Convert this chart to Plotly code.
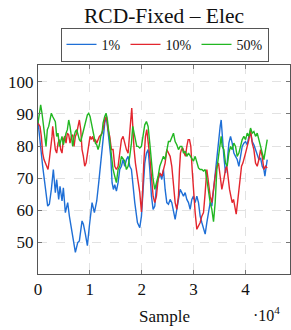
import plotly.graph_objects as go

# ---- data ----
blue_x = [0, 901, 1866, 2188, 2574, 2960, 3346, 3604, 3990, 4247, 4633, 4891, 5277, 5727, 6049, 6692, 7207, 7658, 7979, 8494, 8752, 9138, 9524, 9910, 10425, 10875, 11326, 11712, 12162,
          12870, 13192, 13514, 14028, 14286, 14543, 14801, 15122, 15444, 15766, 16088, 16409, 16731, 17053, 17375, 17696, 18018, 18340, 18662, 19176, 19627, 19949, 20270, 20592, 20914, 21236, 21557, 21879, 22201, 22523, 22844, 23166, 23488,
          23874, 24196, 24517, 24839, 25161, 25483, 25804, 26126, 26448, 26770, 27091, 27413, 27735, 28057, 28378, 28700, 29022, 29344, 29665, 29987, 30309, 30631, 30952, 31274, 31596, 31918, 32239, 32561, 32883, 33205, 33526, 33848, 34170, 34492, 34813, 35135, 35328, 35521,
          35843, 36165, 36486, 36808, 37130, 37452, 37773, 38095, 38417, 38739, 39060, 39382, 39704, 40026, 40347, 40669, 40991, 41313, 41634, 41956, 42278, 42600, 42921, 43243, 43565, 43758, 44015, 44208]
blue_y = [87.6, 73.7, 61.3, 61.9, 66.5, 72.7, 65.5, 69.6, 63.4, 67.5, 62.9, 67.0, 59.3, 62.4, 58.2, 52.1, 46.9, 50.0, 50.5, 56.7, 55.7, 52.6, 49.0, 55.2, 62.4, 59.3, 62.9, 68.6, 76.8,
          87.1, 89.2, 84.0, 76.8, 68.6, 66.5, 68.0, 66.0, 68.6, 72.7, 73.7, 75.8, 73.7, 75.8, 76.8, 73.7, 72.7, 66.5, 62.4, 56.2, 54.6, 58.2, 66.5, 74.7, 77.8, 78.9, 72.7, 64.4, 60.3, 61.3, 67.5, 69.6, 71.6,
          69.6, 72.7, 66.5, 62.4, 61.9, 63.4, 62.4, 59.3, 57.2, 60.3, 63.4, 66.5, 65.5, 64.4, 65.5, 63.4, 62.4, 60.3, 63.4, 64.4, 62.4, 64.4, 62.4, 58.2, 56.2, 54.1, 52.6, 56.2, 59.3, 62.4, 61.3, 66.5, 72.7, 75.8, 80.9, 86.1, 88.1, 83.0,
          76.8, 71.6, 74.7, 80.9, 83.0, 80.9, 77.8, 76.8, 75.8, 73.7, 76.8, 79.9, 80.9, 81.4, 80.4, 83.0, 84.0, 81.4, 80.4, 78.9, 77.8, 75.8, 76.3, 73.7, 72.7, 70.6, 73.7, 75.8]

red_x = [0, 386, 644, 901, 1158, 1416, 1673, 1931, 2188, 2445, 2703, 2831, 3089, 3346, 3604, 3861, 4118, 4376, 4633, 4891, 5148, 5405, 5663, 5920, 6178, 6435, 6692, 6950, 7207, 7465, 7722, 7979, 8237, 8494, 8752, 9009, 9266, 9524, 9781, 10039, 10296, 10553, 10811, 11068, 11326, 11583, 11840, 12162,
         12548, 12870, 13192, 13514, 13835, 14157, 14479, 14801, 15122, 15444, 15766, 16088, 16409, 16731, 17053, 17375, 17696, 17889, 18082, 18275, 18533, 18790, 19048, 19305, 19627, 19949, 20142, 20399, 20721, 20978, 21236, 21557, 21879, 22201, 22523, 22844, 23166, 23488,
         23874, 24196, 24517, 24839, 25161, 25483, 25804, 26126, 26448, 26770, 27091, 27284, 27477, 27670, 27928, 28185, 28443, 28700, 28957, 29215, 29472, 29729, 29987, 30309, 30631, 30952, 31274, 31596, 31918, 32239, 32561, 32883, 33205, 33526, 33848, 34170, 34492, 34813, 35135, 35457,
         35843, 36165, 36422, 36680, 36937, 37194, 37452, 37709, 37966, 38224, 38481, 38739, 38996, 39253, 39511, 39768, 40026, 40347, 40669, 40991, 41313, 41634, 41956, 42278, 42600, 42921, 43243, 43565, 43887, 44208]
red_y = [87.1, 86.1, 83.0, 77.8, 75.8, 74.7, 73.2, 72.7, 75.8, 78.9, 83.0, 86.1, 82.0, 78.9, 77.8, 80.9, 82.0, 78.9, 77.8, 82.0, 83.0, 80.9, 84.0, 83.5, 80.9, 83.0, 83.5, 79.9, 83.0, 84.0, 86.1, 88.1, 85.1, 78.9, 76.8, 73.7, 74.7, 77.8, 80.9, 83.0, 82.0, 83.0, 81.4, 82.0, 80.9, 82.0, 83.0, 83.5,
         85.1, 88.1, 89.2, 85.1, 83.0, 78.9, 78.9, 73.7, 72.7, 73.7, 77.8, 82.0, 83.0, 80.9, 78.9, 77.8, 83.0, 88.1, 91.8, 85.1, 78.9, 74.7, 71.6, 68.6, 65.5, 59.5, 64.4, 74.7, 83.0, 85.1, 82.0, 76.8, 70.6, 64.4, 62.4, 64.4, 69.6, 71.6,
         70.6, 72.7, 74.7, 78.9, 77.8, 76.8, 73.7, 68.6, 62.4, 60.3, 64.4, 72.7, 77.8, 78.9, 79.4, 77.8, 76.8, 79.9, 82.0, 82.0, 79.9, 72.7, 65.5, 59.3, 54.1, 55.2, 56.2, 58.2, 59.3, 65.5, 72.7, 68.6, 64.4, 62.4, 67.5, 70.6, 73.7, 74.7, 70.6, 66.5,
         69.6, 72.7, 73.7, 69.6, 66.5, 64.4, 62.4, 63.4, 61.3, 58.8, 62.4, 66.5, 69.6, 73.7, 74.7, 76.8, 77.8, 79.9, 82.0, 85.1, 80.9, 78.9, 74.7, 73.7, 75.8, 78.9, 76.8, 72.7, 73.7, 73.2]

green_x = [0, 257, 515, 772, 1030, 1287, 1544, 1802, 2059, 2317, 2574, 2831, 3089, 3346, 3604, 3861, 4118, 4376, 4633, 4891, 5148, 5405, 5663, 5920, 6178, 6435, 6692, 6950, 7207, 7465, 7722, 7979, 8237, 8494, 8752, 9009, 9266, 9524, 9781, 10039, 10296, 10553, 10811, 11068, 11326, 11583, 11840, 12098, 12355,
           12548, 12870, 13128, 13385, 13642, 13900, 14157, 14479, 14801, 15122, 15444, 15766, 16088, 16409, 16731, 17053, 17375, 17696, 18018, 18275, 18533, 18790, 19048, 19305, 19627, 19949, 20270, 20592, 20914, 21236, 21557, 21879, 22201, 22523, 22844, 23166, 23488,
           23874, 24196, 24517, 24839, 25161, 25483, 25804, 26126, 26448, 26770, 27091, 27413, 27735, 28057, 28378, 28700, 29022, 29344, 29665, 29987, 30309, 30631, 30952, 31274, 31596, 31918, 32239, 32561, 32883, 33205, 33526, 33848, 34170, 34492, 34813, 35135, 35328, 35521,
           35843, 36165, 36486, 36808, 37130, 37452, 37773, 38095, 38417, 38739, 39060, 39382, 39704, 40026, 40347, 40669, 40991, 41313, 41634, 41956, 42278, 42600, 42921, 43243, 43565, 43887, 44208]
green_y = [87.1, 90.2, 92.8, 90.2, 86.1, 84.0, 79.9, 85.1, 86.1, 88.1, 90.2, 89.2, 88.1, 87.6, 83.0, 84.0, 79.9, 82.0, 83.0, 80.4, 82.5, 84.0, 85.1, 88.1, 86.1, 83.0, 79.9, 83.0, 84.5, 85.1, 83.0, 82.0, 81.4, 83.0, 85.1, 86.1, 88.1, 89.7, 90.2, 89.2, 87.1, 85.1, 82.0, 80.9, 80.4, 78.9, 80.4, 83.0, 84.0,
           87.1, 89.2, 90.2, 88.1, 84.0, 79.9, 75.8, 72.7, 70.6, 68.6, 72.7, 73.7, 76.8, 75.8, 75.3, 72.7, 73.7, 76.8, 80.9, 86.1, 84.0, 82.0, 79.9, 79.9, 79.4, 79.9, 84.0, 86.6, 87.6, 86.1, 80.9, 74.7, 69.6, 66.5, 68.6, 70.6, 73.7,
           75.8, 76.8, 75.8, 78.9, 81.4, 81.4, 83.0, 84.0, 81.4, 80.4, 78.9, 79.9, 79.9, 77.8, 78.4, 76.8, 77.8, 76.8, 75.8, 75.3, 76.8, 74.7, 73.2, 72.7, 72.7, 72.2, 72.7, 69.6, 65.5, 62.4, 60.3, 56.5, 62.4, 72.7, 76.8, 80.9, 83.0, 79.9,
           78.9, 74.7, 73.7, 77.8, 79.9, 78.9, 80.9, 79.9, 76.8, 77.8, 79.9, 82.0, 83.0, 82.0, 84.0, 83.0, 85.6, 84.0, 84.5, 83.0, 84.0, 82.0, 79.9, 77.8, 75.8, 78.9, 82.0]

series_names = ["1%", "10%", "50%"]
series_colors = ["#1f6fd6", "#e3262e", "#22b722"]
x_tick_vals = [0, 10000, 20000, 30000, 40000]
x_tick_text = ["0", "1", "2", "3", "4"]
y_tick_vals = [50, 60, 70, 80, 90, 100]

FONT = "Liberation Serif"

fig = go.Figure()
for xs, ys, name, col in zip([blue_x, red_x, green_x], [blue_y, red_y, green_y], series_names, series_colors):
    fig.add_trace(go.Scatter(x=xs, y=ys, mode="lines", name=name,
                             line=dict(color=col, width=1.4)))

axis_common = dict(
    showline=True, linecolor="#555555", linewidth=1, mirror="ticks",
    ticks="inside", ticklen=4, tickcolor="#777777", tickwidth=1,
    showgrid=True, gridcolor="#e2e2e2", griddash="dash", gridwidth=1,
    zeroline=False, automargin=False,
    tickfont=dict(family=FONT, size=17, color="#111111"),
)

fig.update_xaxes(range=[0, 48600], tickvals=x_tick_vals, ticktext=x_tick_text, **axis_common)
fig.update_yaxes(range=[40.2, 105.2], tickvals=y_tick_vals, **axis_common)

fig.update_layout(
    width=291, height=330,
    margin=dict(l=38, r=1, t=65, b=56, autoexpand=False),
    paper_bgcolor="white", plot_bgcolor="white",
    title=dict(text="RCD-Fixed – Elec", x=(164 / 291), xanchor="center", y=1 - 15 / 330, yanchor="middle",
               font=dict(family=FONT, size=21.5, color="#111111")),
    legend=dict(orientation="h", x=0.502, xanchor="center", y=1.178, yanchor="top",
                bordercolor="#555555", borderwidth=1, bgcolor="white",
                font=dict(family=FONT, size=14, color="#111111"),
                itemwidth=30, tracegroupgap=0),
    showlegend=True,
    annotations=[
        dict(text="Sample", xref="paper", yref="paper", x=0.5, y=-(316 - 274) / 209,
             xanchor="center", yanchor="middle", showarrow=False,
             font=dict(family=FONT, size=17, color="#111111")),
        dict(text="·10<sup>4</sup>", xref="paper", yref="paper", x=(266 - 38) / 252, y=-(314 - 274) / 209,
             xanchor="center", yanchor="middle", showarrow=False,
             font=dict(family=FONT, size=16, color="#111111")),
    ],
)

fig.write_html("out.html", config={"displayModeBar": False},
               post_script="document.body.style.margin='0';document.body.style.padding='0';")
